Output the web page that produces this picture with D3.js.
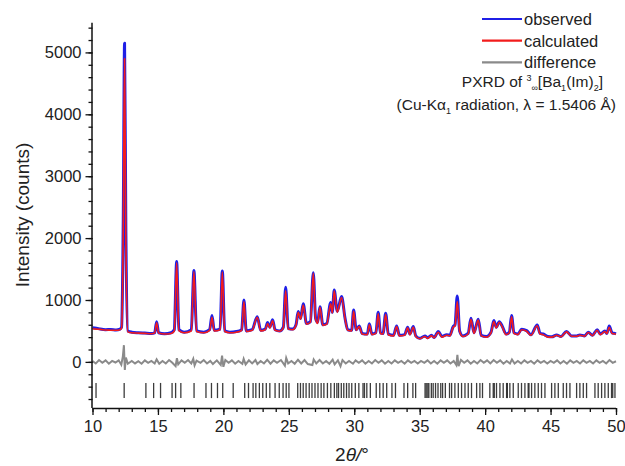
<!DOCTYPE html>
<html>
<head>
<meta charset="utf-8">
<script src="https://cdn.jsdelivr.net/npm/d3@7"></script>
<style>
  body { margin: 0; background: #fff; }
  svg { display: block; font-family: "Liberation Sans", Arial, sans-serif; }
</style>
</head>
<body>
<svg id="chart" width="625" height="466"></svg>
<script>
// ---- data ----
const twoTheta = [10.0,10.3,10.6,11.0,11.4,11.8,12.1,12.22,12.35,12.45,12.55,12.7,13.0,13.5,14.0,14.5,14.75,14.9,15.05,15.5,16.0,16.25,16.43,16.6,17.0,17.55,17.75,17.95,18.5,18.95,19.13,19.3,19.75,19.92,20.1,20.5,21.0,21.4,21.57,21.75,22.2,22.59,22.85,23.2,23.38,23.55,23.76,23.95,24.3,24.58,24.76,24.95,25.3,25.55,25.72,25.9,26.1,26.35,26.65,26.87,27.05,27.2,27.38,27.6,27.9,28.2,28.32,28.47,28.7,29.03,29.3,29.5,29.8,29.95,30.15,30.38,30.6,31.0,31.15,31.35,31.65,31.83,32.0,32.2,32.4,32.6,33.0,33.24,33.45,33.85,34.08,34.25,34.51,34.7,35.0,35.4,35.6,35.9,36.1,36.42,36.7,37.06,37.3,37.56,37.7,37.87,38.05,38.3,38.7,38.92,39.15,39.47,39.7,40.1,40.45,40.67,40.85,41.08,41.3,41.6,41.85,42.02,42.2,42.5,42.79,43.17,43.5,43.98,44.2,44.44,44.8,45.1,45.46,45.8,46.22,46.6,47.0,47.24,47.6,47.88,48.2,48.56,48.8,49.15,49.3,49.48,49.7,49.92,50.0];
const observed = [550,545,530,520,525,515,530,560,2300,5150,2100,500,480,470,465,460,470,650,470,455,470,520,1620,520,480,520,1475,500,480,520,750,510,530,1470,500,480,490,520,1000,500,520,730,510,530,635,560,680,520,500,560,1205,540,530,600,815,700,940,620,650,1440,700,640,890,600,620,960,800,1160,820,1055,700,520,510,840,520,580,460,450,615,450,470,800,470,460,785,450,430,580,430,440,560,450,570,420,380,420,390,430,395,490,410,440,430,570,600,1066,500,420,460,705,470,690,430,410,480,668,560,650,580,450,480,748,470,450,528,505,440,597,460,450,410,405,436,410,492,420,420,436,420,480,430,520,450,500,460,580,470,460,455];
const calculated = [535,530,525,515,512,510,520,545,2150,4900,1980,485,470,465,460,455,465,630,465,450,460,500,1600,505,470,500,1460,490,470,510,720,500,520,1450,490,470,480,510,975,490,510,720,500,520,620,550,665,510,495,550,1150,530,520,590,800,690,920,610,640,1430,690,620,880,590,610,940,790,1150,800,1040,690,510,500,820,510,570,450,440,600,440,460,780,460,450,770,440,420,570,420,430,550,440,560,410,375,410,380,420,390,480,400,430,420,560,580,975,490,410,450,690,460,675,420,400,470,650,550,640,570,440,470,730,460,440,520,495,430,585,450,440,400,400,430,405,485,415,415,430,415,475,425,510,440,490,455,560,460,450,445];

const diffTheta = [10,10.25,10.5,10.75,11,11.25,11.5,11.75,12,12.2,12.32,12.4,12.47,12.55,12.7,13,13.25,13.5,13.75,14,14.25,14.5,14.75,14.9,15.1,15.35,15.6,15.85,16.1,16.35,16.45,16.55,16.8,17.05,17.3,17.55,17.7,17.8,17.95,18.25,18.5,18.75,19,19.2,19.5,19.8,19.9,20.0,20.15,20.4,20.65,20.9,21.15,21.45,21.55,21.7,21.95,22.2,22.45,22.6,22.85,23.1,23.35,23.6,23.85,24.1,24.4,24.7,24.8,24.95,25.2,25.45,25.7,25.95,26.2,26.45,26.8,26.9,27.1,27.35,27.6,27.85,28.1,28.35,28.5,28.75,28.95,29.1,29.35,29.6,29.9,30.1,30.35,30.6,30.85,31.1,31.35,31.6,31.85,32.1,32.35,32.6,32.85,33.1,33.35,33.6,33.85,34.1,34.35,34.6,34.85,35.1,35.35,35.6,35.85,36.1,36.35,36.6,36.85,37.1,37.35,37.6,37.8,37.88,37.97,38.15,38.4,38.65,38.9,39.15,39.4,39.65,39.9,40.15,40.4,40.65,40.9,41.15,41.4,41.65,41.9,42.05,42.25,42.5,42.75,43,43.25,43.5,43.75,44,44.25,44.5,44.75,45,45.25,45.5,45.75,46,46.25,46.5,46.75,47,47.25,47.5,47.75,48,48.25,48.5,48.75,49,49.25,49.5,49.75,50];
const difference = [15,-25,30,-15,25,-30,15,-10,25,-45,90,270,-130,70,-30,15,-25,10,-30,25,-15,15,-25,40,-30,15,-25,30,-15,-70,60,-40,25,-15,30,-25,50,-55,20,-15,30,-25,15,-35,25,-50,100,-80,30,-15,25,-30,15,-30,50,-40,25,-25,30,-35,15,-25,35,-30,25,-15,30,-60,65,-25,15,-30,35,-25,30,-35,-50,40,-25,30,-25,15,-30,35,-40,25,-70,30,-25,15,-30,25,-15,25,-30,15,-25,30,-15,25,-30,15,-25,25,-15,15,-30,25,-15,15,-25,15,-15,25,-25,15,-30,25,-15,25,-25,15,-50,115,-70,30,-15,25,-30,15,-25,30,-15,25,-25,30,-15,25,-30,15,-25,40,-25,15,-25,25,-15,15,-30,25,-15,15,-25,15,-15,25,-25,15,-30,25,-15,15,-25,25,-15,15,-25,25,-15,15,-25,30,-15,10];

const braggPositions = [10.27,12.42,14.08,14.67,15.2,16.08,16.35,16.75,17.76,18.67,19.09,19.55,19.95,20.75,21.63,21.92,22.27,22.48,22.75,23.01,23.28,23.55,23.95,24.27,24.56,24.8,25.01,25.68,25.89,26.1,26.32,26.56,26.77,27.0,27.23,27.47,27.68,27.95,28.21,28.48,28.67,28.8,29.01,29.2,29.41,29.6,29.81,30.08,30.35,30.67,30.78,30.96,31.23,31.68,31.95,32.21,32.48,32.88,33.15,33.8,34.08,34.48,34.69,35.41,35.5,35.62,35.7,35.89,36.03,36.21,36.4,36.61,36.75,36.96,37.28,37.44,37.69,37.95,38.2,38.46,38.71,38.96,39.35,39.6,39.8,40.36,40.62,40.7,40.87,41.13,41.38,41.64,41.7,41.89,42.15,42.53,42.78,43.04,43.29,43.35,43.55,43.8,44.06,44.31,44.57,45.08,45.33,45.59,45.97,46.22,46.48,46.99,47.24,47.5,47.75,48.39,48.64,48.9,49.15,49.41,49.66,49.75,49.92];

const xMajorTicks = [10,15,20,25,30,35,40,45,50];
const yMajorTicks = [0,1000,2000,3000,4000,5000];
const legendLabels = ["observed","calculated","difference"];
const legendColors = ["#1f1fe6","#f21c1c","#8a8a8a"];

// ---- drawing ----
const svg = d3.select("#chart");
const x = d3.scaleLinear().domain([10, 50]).range([92.5, 616]);
const y = d3.scaleLinear().domain([-745, 5480]).range([408, 22.7]);

const obsData = twoTheta.map((t, i) => [t, observed[i]]);
const calcData = twoTheta.map((t, i) => [t, calculated[i]]);
const diffData = diffTheta.map((t, i) => [t, difference[i]]);

const line = d3.line().x(d => x(d[0])).y(d => y(d[1])).curve(d3.curveMonotoneX);
const lineLin = d3.line().x(d => x(d[0])).y(d => y(d[1]));

// difference
svg.append("path").datum(diffData).attr("d", lineLin)
  .attr("fill", "none").attr("stroke", legendColors[2]).attr("stroke-width", 2);

// observed
svg.append("path").datum(obsData).attr("d", line)
  .attr("fill", "none").attr("stroke", legendColors[0]).attr("stroke-width", 3)
  .attr("stroke-linejoin", "round");
// calculated
svg.append("path").datum(calcData).attr("d", line)
  .attr("fill", "none").attr("stroke", legendColors[1]).attr("stroke-width", 1.6)
  .attr("stroke-linejoin", "round");

// Bragg ticks
svg.append("g").selectAll("line").data(braggPositions).join("line")
  .attr("x1", d => x(d)).attr("x2", d => x(d))
  .attr("y1", y(-340)).attr("y2", y(-585))
  .attr("stroke", "#1a1a1a").attr("stroke-width", 1.3).attr("stroke-opacity", 0.85);

// axes
const fontSize = "16.5px";
const xAxisMinor = d3.axisBottom(x).tickValues(d3.range(10, 51, 1)).tickSize(4).tickFormat("");
const xAxis = d3.axisBottom(x).tickValues(xMajorTicks).tickSize(7).tickPadding(5).tickFormat(d3.format("d"));
const yAxisMinor = d3.axisLeft(y).tickValues(d3.range(-600, 5401, 200)).tickSize(4).tickFormat("");
const yAxis = d3.axisLeft(y).tickValues(yMajorTicks).tickSize(7).tickPadding(4).tickFormat(d3.format("d"));

function styleAxis(g) {
  g.select(".domain").attr("stroke", "#111").attr("stroke-width", 1.5);
  g.selectAll(".tick line").attr("stroke", "#111").attr("stroke-width", 1.3);
  g.selectAll(".tick text").attr("fill", "#222").style("font-size", fontSize)
    .style("font-family", '"Liberation Sans", Arial, sans-serif');
}

const gx1 = svg.append("g").attr("transform", "translate(0,408)").call(xAxisMinor);
gx1.select(".domain").remove();
gx1.selectAll(".tick line").attr("stroke", "#111").attr("stroke-width", 1.3);
const gx = svg.append("g").attr("transform", "translate(0,408)").call(xAxis);
styleAxis(gx);
gx.select(".domain").attr("d", `M${x(10)},0.5H${x(50)}`);

const gy1 = svg.append("g").attr("transform", "translate(92.5,0)").call(yAxisMinor);
gy1.select(".domain").remove();
gy1.selectAll(".tick line").attr("stroke", "#111").attr("stroke-width", 1.3);
const gy = svg.append("g").attr("transform", "translate(92.5,0)").call(yAxis);
styleAxis(gy);
gy.select(".domain").attr("d", `M-0.5,${y(5480)}V${y(-745)}`);

// axis titles
svg.append("text")
  .attr("transform", `translate(29,${215}) rotate(-90)`)
  .attr("text-anchor", "middle")
  .attr("fill", "#222").style("font-size", "19px")
  .text("Intensity (counts)");

const xt = svg.append("text")
  .attr("x", 352).attr("y", 461)
  .attr("text-anchor", "middle")
  .attr("fill", "#222").style("font-size", "19px");
xt.append("tspan").text("2");
xt.append("tspan").style("font-style", "italic").text("θ");
xt.append("tspan").style("font-style", "italic").text("/");
xt.append("tspan").text("°");

// legend
const lg = svg.append("g");
legendLabels.forEach((lab, i) => {
  const yy = 19 + i * 21.7;
  lg.append("line").attr("x1", 482).attr("x2", 522).attr("y1", yy).attr("y2", yy)
    .attr("stroke", legendColors[i]).attr("stroke-width", 2.2);
  lg.append("text").attr("x", 524).attr("y", yy + 6).attr("fill", "#222")
    .style("font-size", fontSize).text(lab);
});

const t1 = svg.append("text").attr("x", 603).attr("y", 87).attr("text-anchor", "end")
  .attr("fill", "#222").style("font-size", "15.5px");
t1.append("tspan").text("PXRD of ");
t1.append("tspan").attr("dy", -6).style("font-size", "9px").text("3");
t1.append("tspan").attr("dy", 10).style("font-size", "9px").text("∞");
t1.append("tspan").attr("dy", -4).text("[Ba");
t1.append("tspan").attr("dy", 4).style("font-size", "9px").text("1");
t1.append("tspan").attr("dy", -4).text("(Im)");
t1.append("tspan").attr("dy", 4).style("font-size", "9px").text("2");
t1.append("tspan").attr("dy", -4).text("]");

const t2 = svg.append("text").attr("x", 616).attr("y", 110).attr("text-anchor", "end")
  .attr("fill", "#222").style("font-size", "15.5px");
t2.append("tspan").text("(Cu-Kα");
t2.append("tspan").attr("dy", 4).style("font-size", "9px").text("1");
t2.append("tspan").attr("dy", -4).text(" radiation, λ = 1.5406 Å)");
</script>
</body>
</html>
